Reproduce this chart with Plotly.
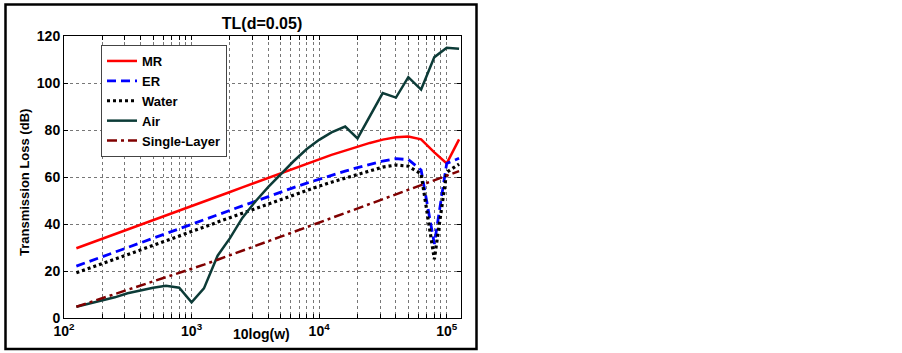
import plotly.graph_objects as go

freq = [125, 160, 200, 250, 315, 400, 500, 630, 800, 1000, 1250, 1600, 2000, 2500, 3150,
        4000, 5000, 6300, 8000, 10000, 12500, 16000, 20000, 25000, 31500, 40000, 50000,
        63000, 80000, 100000, 125000]

mr = [29.7, 31.8, 33.7, 35.7, 37.7, 39.7, 41.7, 43.7, 45.8, 47.7, 49.6, 51.7, 53.6, 55.6, 57.6,
      59.6, 61.6, 63.6, 65.6, 67.5, 69.4, 71.2, 72.9, 74.5, 75.9, 76.9, 77.2, 76.0, 70.5, 65.8, 76.0]
er = [22.1, 24.1, 26.0, 28.0, 30.0, 32.0, 33.9, 35.9, 38.0, 39.9, 41.8, 43.9, 45.8, 47.7, 49.7,
      51.7, 53.6, 55.5, 57.4, 59.1, 60.8, 62.5, 64.0, 65.5, 66.8, 67.8, 67.4, 63.0, 31.5, 65.8, 68.0]
water = [19.3, 21.3, 23.2, 25.1, 27.0, 29.0, 30.9, 32.8, 34.9, 36.8, 38.7, 40.8, 42.7, 44.6, 46.5,
         48.5, 50.4, 52.3, 54.3, 56.1, 57.8, 59.6, 61.2, 62.8, 64.2, 65.1, 64.6, 61.3, 25.0, 62.0, 65.5]
air = [4.8, 6.2, 7.3, 8.8, 10.5, 11.8, 12.9, 13.7, 12.9, 6.7, 12.6, 26.5, 34.0, 42.6, 49.5,
       55.8, 61.2, 66.7, 71.9, 75.8, 79.0, 81.5, 76.4, 86.0, 95.7, 93.8, 102.5, 97.2, 111.0, 115.0, 114.6]
single = [4.8, 6.7, 8.5, 10.2, 12.0, 13.9, 15.6, 17.4, 19.1, 20.8, 22.7, 24.8, 26.8, 28.7, 30.6,
          32.7, 34.6, 36.6, 38.6, 40.6, 42.5, 44.6, 46.5, 48.5, 50.4, 52.5, 54.4, 56.4, 58.4, 60.5, 62.5]

series_names = ["MR", "ER", "Water", "Air", "Single-Layer"]
y_ticks = [0, 20, 40, 60, 80, 100, 120]
decades = [100, 1000, 10000, 100000]
decade_labels = ["10<sup>2</sup>", "10<sup>3</sup>", "10<sup>4</sup>", "10<sup>5</sup>"]
minor_vals = [d * m for d in [100, 1000, 10000] for m in range(2, 10)]

styles = [
    dict(color="#ff0000", width=2.5, dash="solid"),
    dict(color="#0000ff", width=2.8, dash="9px,5px"),
    dict(color="#000000", width=3.2, dash="3px,3px"),
    dict(color="#0c3b37", width=2.5, dash="solid"),
    dict(color="#800000", width=2.5, dash="10px,4px,3px,4px"),
]

fig = go.Figure()
for name, ys, st in zip(series_names, [mr, er, water, air, single], styles):
    fig.add_trace(go.Scatter(x=freq, y=ys, mode="lines", name=name, line=st))

font_family = "Liberation Sans, Arial, Helvetica, sans-serif"
grid = dict(showgrid=True, gridcolor="#777777", griddash="dot", gridwidth=1)

PL, PT, PW, PH = 64, 36, 397, 282


def px(x):
    return (x - PL) / PW


def py(y):
    return (PT + PH - y) / PH


fig.update_layout(
    width=902, height=353,
    margin=dict(l=PL, r=902 - PL - PW, t=PT, b=353 - PT - PH),
    paper_bgcolor="white", plot_bgcolor="white",
    font=dict(family=font_family, size=14, color="black", weight="bold"),
    title=dict(text="TL(d=0.05)", x=262 / 902, xanchor="center", xref="container",
               y=1 - 23 / 353, yanchor="middle", yref="container",
               font=dict(size=16, weight="bold", family=font_family)),
    showlegend=True,
    legend=dict(x=px(101), y=py(45), xanchor="left", yanchor="top",
                bgcolor="white", bordercolor="#444444", borderwidth=1,
                font=dict(size=13, weight="bold", family=font_family)),
    xaxis=dict(type="log", range=[2, 5.112], tickmode="array", tickvals=decades,
               ticktext=decade_labels, ticks="inside", ticklen=4, tickcolor="black",
               showline=True, linecolor="black", linewidth=1, mirror="ticks",
               zeroline=False, tickfont=dict(size=14, weight="bold"),
               minor=dict(tickmode="array", tickvals=minor_vals, ticks="inside", ticklen=4,
                          tickcolor="black", **grid),
               **grid),
    yaxis=dict(range=[0, 120], tickmode="array", tickvals=y_ticks,
               ticks="inside", ticklen=4, tickcolor="black",
               showline=True, linecolor="black", linewidth=1, mirror="ticks",
               zeroline=False, tickfont=dict(size=14, weight="bold"), **grid),
)

fig.add_annotation(text="10log(w)", xref="paper", yref="paper", x=px(261),
                   y=py(334), xanchor="center", yanchor="middle", showarrow=False,
                   font=dict(size=14, weight="bold", family=font_family))
fig.add_annotation(text="Transmission Loss (dB)", xref="paper", yref="paper",
                   x=px(25), y=py(183), xanchor="center", yanchor="middle",
                   textangle=-90, showarrow=False,
                   font=dict(size=13, weight="bold", family=font_family))

# outer figure frame
fig.add_shape(type="rect", xref="paper", yref="paper",
              x0=px(5.5), x1=px(476.5), y0=py(349), y1=py(4.5),
              line=dict(color="black", width=2.5), fillcolor="rgba(0,0,0,0)", layer="above")

fig.write_html("out.html", config={"displayModeBar": False},
               post_script="document.body.style.margin='0px';document.body.style.padding='0px';")
